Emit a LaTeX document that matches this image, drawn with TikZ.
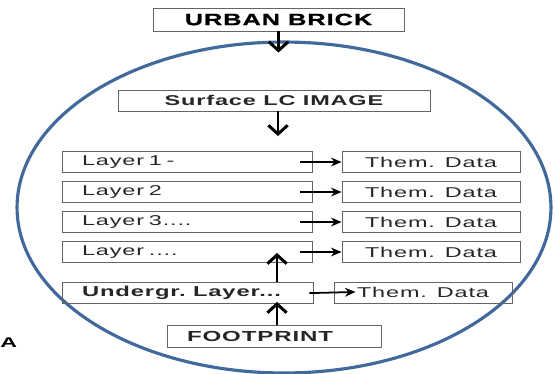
\documentclass[tikz,border=0pt]{standalone}
\usepackage{fontspec}
\usetikzlibrary{arrows.meta}
\newfontfamily\diagfont[FakeStretch=1.65,LetterSpace=6]{Liberation Sans}
\newfontfamily\heavyfont[FakeStretch=1.55,FakeBold=1.2,LetterSpace=6]{Liberation Sans Bold}
\definecolor{ringblue}{RGB}{65,105,155}
\definecolor{boxgray}{RGB}{100,100,100}

\begin{document}
\begin{tikzpicture}[x=0.02cm, y=-0.02cm, >=Stealth,
	box/.style={draw=boxgray, line width=0.5pt, inner ysep=0pt, minimum height=0.42cm, font=\diagfont\fontsize{8.1}{9}\selectfont, text=black!85},
	leftbox/.style={box, inner xsep=0.4cm, text width=#1, align=left},
	midbox/.style={box, minimum width=#1},
	bigarrow/.style={line width=1.7pt, -{Straight Barb[length=5pt,width=11pt]}},
	smallarrow/.style={line width=1pt, -{Stealth[length=6pt,width=5pt]}}]
	\useasboundingbox (0,0) rectangle (557,373);
	\draw[ringblue, line width=1.8pt] (284,207.5) ellipse [x radius=5.34cm, y radius=3.31cm];
	% top part
	\node[midbox=5.02cm, minimum height=0.46cm, font=\heavyfont\fontsize{9.3}{10}\selectfont, text=black] (urban) at (278.5,19.5) {URBAN BRICK};
	\node[midbox=6.24cm, font=\diagfont\bfseries\fontsize{8.1}{9}\selectfont] (surface) at (274,100.5) {Surface LC IMAGE};
	% layers and their data
	\node[leftbox=4.2cm] (l1) at (187,162) {Layer 1 -};
	\node[leftbox=4.2cm] (l2) at (187,192) {Layer 2};
	\node[leftbox=4.2cm] (l3) at (187,222) {Layer 3....};
	\node[leftbox=4.2cm] (l4) at (187,252) {Layer ....};
	\node[midbox=3.56cm] (t1) at (431,162) {Them. Data};
	\node[midbox=3.56cm] (t2) at (431,192) {Them. Data};
	\node[midbox=3.56cm] (t3) at (431,222) {Them. Data};
	\node[midbox=3.56cm] (t4) at (431,252) {Them. Data};
	\node[leftbox=4.22cm, font=\diagfont\bfseries\fontsize{8.2}{9}\selectfont] (under) at (187.5,293) {Undergr. Layer...};
	\node[midbox=3.56cm] (t5) at (423,292.5) {Them. Data};
	\node[leftbox=3.48cm, minimum height=0.44cm, font=\diagfont\bfseries\fontsize{8.3}{9}\selectfont] (foot) at (274,336) {FOOTPRINT};
	\node[font=\diagfont\bfseries\fontsize{8}{8}\selectfont, anchor=west, inner sep=0pt] (stray) at (0,343) {A};
	% arrows
	\draw[bigarrow, shorten >=0.74cm] (urban.south) -- (urban.south |- surface.north);
	\draw[bigarrow, shorten >=0.3cm] ([xshift=0.08cm]surface.south) -- ([xshift=0.08cm]surface.south |- l1.north);
	\foreach \i in {1,...,4}
		\draw[smallarrow, shorten <=-0.24cm] (l\i) -- (t\i);
	\draw[smallarrow, shorten <=-0.08cm, shorten >=-0.44cm] (under.east) -- (t5.west);
	\coordinate (u1) at (277,0);
	\draw[bigarrow, shorten >=-0.2cm] (u1 |- under.north) -- (u1 |- l4.south);
	\draw[bigarrow, shorten >=-0.04cm] (u1 |- foot.north) -- (u1 |- under.south);
\end{tikzpicture}
\end{document}
